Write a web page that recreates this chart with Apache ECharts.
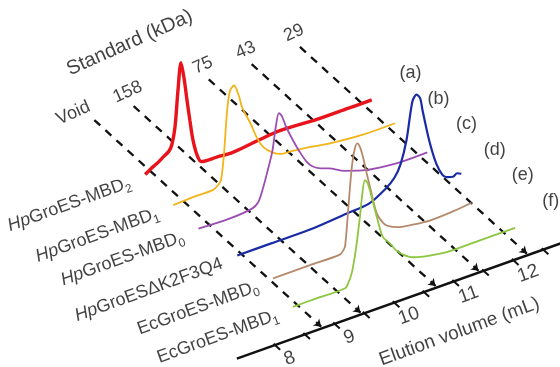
<!DOCTYPE html>
<html>
<head>
<meta charset="utf-8">
<script src="https://cdn.jsdelivr.net/npm/echarts@6/dist/echarts.min.js"></script>
<style>
html, body { margin: 0; padding: 0; background: #fff; }
#chart { width: 560px; height: 367px; }
</style>
</head>
<body>
<div id="chart"></div>
<script>
// traces, back (a) to front (f): elution volume (mL) and relative absorbance
var volA = [8.60, 8.70, 8.80, 8.90, 9.00, 9.05, 9.10, 9.15, 9.20, 9.25, 9.30, 9.35, 9.40, 9.47, 9.54, 9.80, 10.07, 10.50, 10.86, 11.48, 12.00, 12.40];
var absA = [7, 11, 14, 18, 22, 28, 44, 80, 106, 90, 67, 45, 25, 8, 0, -1, -2, 1, 3, 1, 1, 1];
var volB = [8.60, 9.00, 9.27, 9.35, 9.40, 9.45, 9.50, 9.55, 9.62, 9.70, 9.75, 9.82, 9.89, 10.00, 10.11, 10.27, 10.40, 10.56, 10.84, 11.23, 11.78, 12.32];
var absB = [2, 3, 3, 6, 10, 35, 75, 96, 100, 88, 76, 66, 57, 40, 28, 19, 15, 14, 12, 8, 5, 5];
var volC = [8.55, 9.07, 9.45, 9.55, 9.62, 9.70, 9.79, 9.85, 9.90, 9.95, 10.02, 10.12, 10.24, 10.36, 10.46, 10.60, 10.74, 11.00, 11.30, 11.87, 12.39];
var absC = [5, 4, 6, 10, 20, 36, 56, 80, 92, 88, 76, 62, 47, 34, 27, 22, 19, 11, 5, 0, 0];
var volD = [8.73, 9.30, 9.94, 10.56, 10.94, 11.22, 11.37, 11.47, 11.57, 11.67, 11.74, 11.80, 11.84, 11.95, 12.07, 12.17, 12.24, 12.35, 12.42, 12.49];
var absD = [0, 0, 0, 3, 5, 14, 22, 33, 55, 92, 97, 92, 79, 47, 21, 8, 4, 2, 4, 2];
var volE = [8.86, 9.48, 9.98, 10.04, 10.07, 10.12, 10.16, 10.19, 10.23, 10.27, 10.32, 10.37, 10.43, 10.49, 10.60, 10.71, 10.80, 10.94, 11.20, 11.49, 11.90, 12.19];
var absE = [0, 0, 0, 3, 7, 41, 70, 87, 100, 105, 100, 89, 72, 56, 28, 16, 11, 7, 4, 2, 3, 5];
var volF = [8.72, 9.06, 9.60, 9.65, 9.71, 9.76, 9.80, 9.85, 9.88, 9.93, 9.97, 10.01, 10.07, 10.13, 10.23, 10.35, 10.45, 10.57, 10.73, 10.90, 11.30, 11.86, 12.45];
var absF = [0, 0, 0, 4, 13, 28, 44, 68, 85, 101, 98, 90, 75, 60, 38, 29, 20, 13, 7, 4, 0, 0, 0];

var traceNames = ['{i|Hp}GroES-MBD{s|2}', '{i|Hp}GroES-MBD{s|1}', '{i|Hp}GroES-MBD{s|0}',
                  '{i|Hp}GroESΔK2F3Q4', 'EcGroES-MBD{s|0}', 'EcGroES-MBD{s|1}'];
var traceLetters = ['(a)', '(b)', '(c)', '(d)', '(e)', '(f)'];
var traceColors = ['#e8131b', '#f2b419', '#9b4db3', '#1a2ba6', '#b58a6c', '#8dc63f'];

var standardNames = ['Void', '158', '75', '43', '29'];
var standardVolumes = [8.8, 9.46, 10.72, 11.44, 12.25];

var tickVolumes = [8, 8.5, 9, 9.5, 10, 10.5, 11, 11.5, 12, 12.5];
var tickLabels = ['8', '9', '10', '11', '12'];
var tickLabelVolumes = [8, 9, 10, 11, 12];

// oblique view: volume runs along the floor axis, traces step back in depth
var ORIGIN = [275, 345];
var PER_ML = [59.6, -21.2];
var DEPTH_DIR = [0.739, 0.673];
var traceDepth = [224, 186, 148, 110, 72, 34];
var FONT = '"Liberation Sans", Arial, sans-serif';

function proj(v, a, d) {
    return [ORIGIN[0] + (v - 8) * PER_ML[0] - d * DEPTH_DIR[0],
            ORIGIN[1] + (v - 8) * PER_ML[1] - d * DEPTH_DIR[1] - a];
}

var traces = [[volA, absA], [volB, absB], [volC, absC], [volD, absD], [volE, absE], [volF, absF]];
var series = [];

// floor axis
series.push({
    type: 'line', z: 2, silent: true, showSymbol: false,
    data: [proj(7.36, 0, 0), proj(12.95, 0, 0)],
    lineStyle: { color: '#111', width: 2.5 }
});
series.push({
    type: 'lines', coordinateSystem: 'cartesian2d', z: 2, silent: true,
    data: tickVolumes.map(function (v) { return { coords: [proj(v, 0, 2), proj(v, 0, -7)] }; }),
    lineStyle: { color: '#111', width: 2, opacity: 1 }
});

// standards: dashed guides with arrows
series.push({
    type: 'lines', coordinateSystem: 'cartesian2d', z: 1, silent: true,
    symbol: ['none', 'arrow'], symbolSize: 7,
    data: standardVolumes.map(function (v) { return { coords: [proj(v, 0, 309), proj(v, 0, 2)] }; }),
    lineStyle: { color: '#111', width: 2.3, type: [8, 7], opacity: 1 }
});

traces.forEach(function (t, k) {
    series.push({
        type: 'line', z: 3, silent: true, showSymbol: false, smooth: 0.3,
        data: t[0].map(function (v, i) { return proj(v, t[1][i], traceDepth[k]); }),
        lineStyle: { color: traceColors[k], width: k === 0 ? 3.4 : (k === 3 ? 2.2 : 1.8) }
    });
});

// trace names at the start of each trace
series.push({
    type: 'scatter', z: 4, silent: true, symbolSize: 0.1,
    itemStyle: { color: 'transparent' },
    data: traces.map(function (t, k) {
        var p = proj(t[0][0], t[1][0], traceDepth[k]);
        return { value: [p[0] - 11, p[1] + 19], name: traceNames[k] };
    }),
    label: {
        show: true, position: 'inside', align: 'right', verticalAlign: 'bottom', rotate: 20,
        formatter: function (p) { return p.name; },
        color: '#111', fontSize: 18, fontFamily: FONT, lineHeight: 24,
        rich: {
            i: { fontStyle: 'italic', fontSize: 18, fontFamily: FONT, color: '#111' },
            s: { fontSize: 12, lineHeight: 12, verticalAlign: 'bottom', fontFamily: FONT, color: '#111' }
        }
    }
});

// trace letters
series.push({
    type: 'scatter', z: 4, silent: true, symbolSize: 0.1,
    itemStyle: { color: 'transparent' },
    data: traceLetters.map(function (s, k) { return { value: proj(13.05, 14, traceDepth[k]), name: s }; }),
    label: { show: true, position: 'inside', formatter: '{b}', color: '#111', fontSize: 18, fontFamily: FONT }
});

// standard names at the back end of the guides
series.push({
    type: 'scatter', z: 4, silent: true, symbolSize: 0.1,
    itemStyle: { color: 'transparent' },
    data: standardVolumes.map(function (v, i) {
        var p = proj(v, 0, 309);
        var nudge = i === 0 ? [-21, -7] : [-6, -14];
        return { value: [p[0] + nudge[0], p[1] + nudge[1]], name: standardNames[i] };
    }),
    label: { show: true, position: 'inside', rotate: 24, formatter: '{b}', color: '#111', fontSize: 18, fontFamily: FONT }
});
series.push({
    type: 'scatter', z: 4, silent: true, symbolSize: 0.1,
    itemStyle: { color: 'transparent' },
    data: [{ value: proj(10.25, 0, 378), name: 'Standard (kDa)' }],
    label: { show: true, position: 'inside', rotate: 24, formatter: '{b}', color: '#111', fontSize: 20, fontFamily: FONT }
});

// volume tick labels and axis title
series.push({
    type: 'scatter', z: 4, silent: true, symbolSize: 0.1,
    itemStyle: { color: 'transparent' },
    data: tickLabelVolumes.map(function (v, i) { return { value: proj(v, 0, -20), name: tickLabels[i] }; })
        .concat([{ value: proj(10.4, 0, -56), name: 'Elution volume (mL)' }]),
    label: { show: true, position: 'inside', rotate: 20, formatter: '{b}', color: '#111', fontSize: 19, fontFamily: FONT }
});

var chart = echarts.init(document.getElementById('chart'));
chart.setOption({
    animation: false,
    backgroundColor: '#fff',
    grid: { left: 0, right: 0, top: 0, bottom: 0 },
    xAxis: { type: 'value', min: 0, max: 560, show: false },
    yAxis: { type: 'value', min: 0, max: 367, inverse: true, show: false },
    series: series
});
</script>
</body>
</html>
